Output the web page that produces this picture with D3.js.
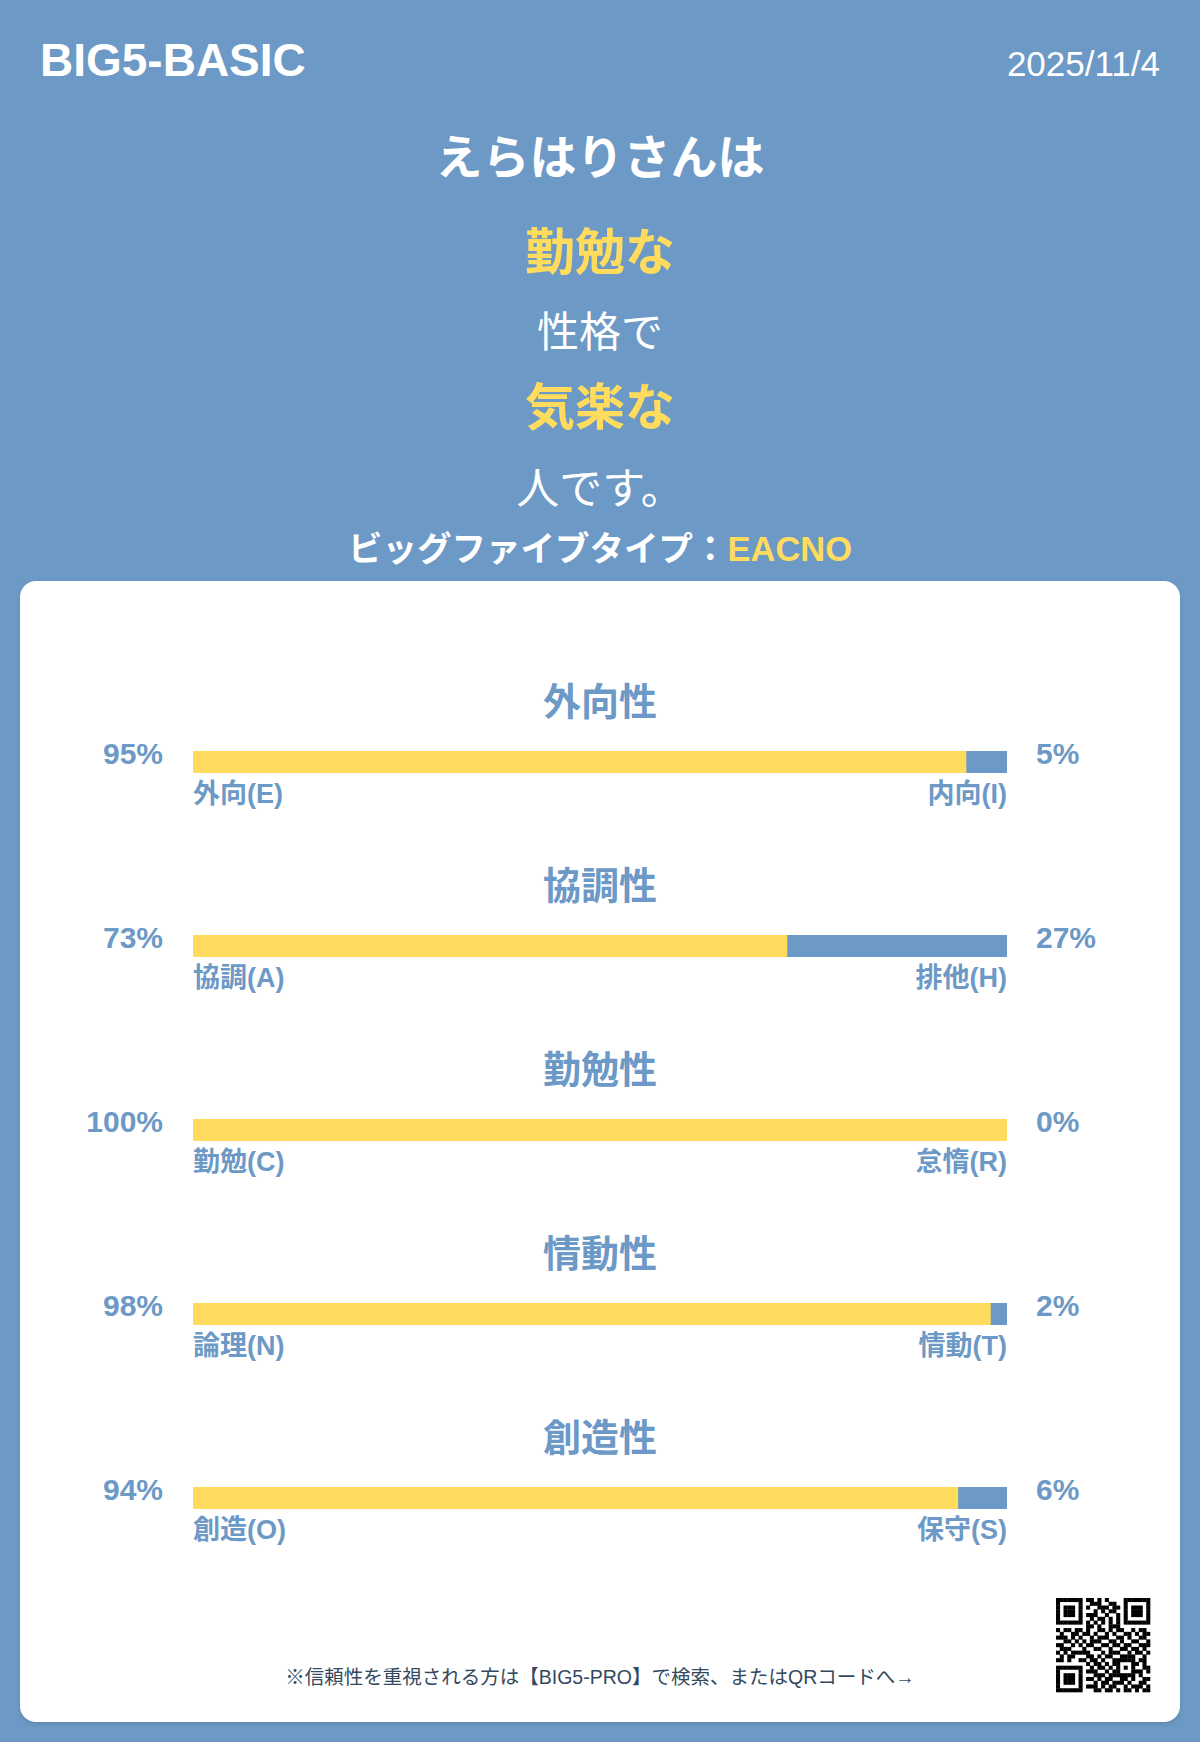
<!DOCTYPE html>
<html lang="ja">
<head>
<meta charset="utf-8">
<script src="https://cdn.jsdelivr.net/npm/d3@7"></script>
<style>
  html, body { margin: 0; padding: 0; background: #6c99c5; }
  svg { display: block; font-family: "Liberation Sans", Arial, "Noto Sans CJK JP", sans-serif; }
</style>
</head>
<body>
<div id="chart"></div>
<script>
// header texts
const appName = "BIG5-BASIC";
const reportDate = "2025/11/4";
const headline = [
  { text: "えらはりさんは", accent: false, bold: true, size: 47 },
  { text: "勤勉な", accent: true, bold: true, size: 50 },
  { text: "性格で", accent: false, bold: false, size: 42 },
  { text: "気楽な", accent: true, bold: true, size: 50 },
  { text: "人です。", accent: false, bold: false, size: 43 }
];
const typeLabel = "ビッグファイブタイプ：";
const typeCode = "EACNO";

// trait data
const traits = ["外向性", "協調性", "勤勉性", "情動性", "創造性"];
const leftValues = [95, 73, 100, 98, 94];
const rightValues = [5, 27, 0, 2, 6];
const leftLabels = ["外向(E)", "協調(A)", "勤勉(C)", "論理(N)", "創造(O)"];
const rightLabels = ["内向(I)", "排他(H)", "怠惰(R)", "情動(T)", "保守(S)"];

const footerNote = "※信頼性を重視される方は【BIG5-PRO】で検索、またはQRコードへ→";

// decorative code pattern (1 = dark module)
const qrRows = [
  "1111111011010100001111111",
  "1000001001110011001000001",
  "1011101010011101101011101",
  "1011101000101011001011101",
  "1011101011100100101011101",
  "1000001001011010101000001",
  "1111111010101010101111111",
  "0000000011010011100000000",
  "1011011010011010110010110",
  "0100110110100101001101011",
  "1110101001011100110100110",
  "0011010101110011010011001",
  "1100101011001101101100111",
  "0111000100110010011011010",
  "1010111110001011100101101",
  "0101100011010110011110010",
  "1101001101101001111110110",
  "0000000010110101100011010",
  "1111111001011010101010011",
  "1000001011100101100011101",
  "1011101000111011111110100",
  "1011101011010110011010011",
  "1011101000101101110100110",
  "1000001011101011001011101",
  "1111111000110110101101011"
];

const W = 1200, H = 1742;
const BLUE = "#6c99c5", YELLOW = "#ffdc5e", WHITE = "#ffffff";

const svg = d3.select("#chart")
  .append("svg")
  .attr("width", W)
  .attr("height", H);

svg.append("rect")
  .attr("width", W)
  .attr("height", H)
  .attr("fill", BLUE);

// top bar
svg.append("text")
  .attr("x", 40)
  .attr("y", 76)
  .attr("fill", WHITE)
  .style("font-size", "46px")
  .style("font-weight", "bold")
  .text(appName);

svg.append("text")
  .attr("x", 1160)
  .attr("y", 76)
  .attr("text-anchor", "end")
  .attr("fill", WHITE)
  .style("font-size", "35px")
  .text(reportDate);

// headline lines, centred
const headY = [174, 270, 347, 425, 504];
svg.selectAll("text.head")
  .data(headline)
  .enter()
  .append("text")
  .attr("class", "head")
  .attr("x", W / 2)
  .attr("y", (d, i) => headY[i])
  .attr("text-anchor", "middle")
  .attr("fill", (d) => (d.accent ? YELLOW : WHITE))
  .style("font-size", (d) => d.size + "px")
  .style("font-weight", (d) => (d.bold ? "bold" : "normal"))
  .text((d) => d.text);

const typeText = svg.append("text")
  .attr("x", W / 2)
  .attr("y", 561)
  .attr("text-anchor", "middle")
  .style("font-size", "34.5px")
  .style("font-weight", "bold");
typeText.append("tspan").attr("fill", WHITE).text(typeLabel);
typeText.append("tspan").attr("fill", YELLOW).text(typeCode);

// white card
svg.append("defs")
  .append("filter")
  .attr("id", "shadow")
  .append("feDropShadow")
  .attr("dx", 0)
  .attr("dy", 2)
  .attr("stdDeviation", 2)
  .attr("flood-color", "#000")
  .attr("flood-opacity", 0.12);

svg.append("rect")
  .attr("x", 20)
  .attr("y", 581)
  .attr("width", 1160)
  .attr("height", 1141)
  .attr("rx", 16)
  .attr("fill", WHITE)
  .attr("filter", "url(#shadow)");

// scales
const x = d3.scaleLinear().domain([0, 100]).range([193, 1007]);
const y = d3.scaleLinear().domain([0, traits.length - 1]).range([751, 1487]);
const barH = 22;

const rows = traits.map((t, i) => ({
  trait: t,
  left: leftValues[i],
  right: rightValues[i],
  leftLabel: leftLabels[i],
  rightLabel: rightLabels[i],
  i: i
}));

const g = svg.selectAll("g.trait")
  .data(rows)
  .enter()
  .append("g")
  .attr("class", "trait")
  .attr("transform", (d) => `translate(0,${y(d.i)})`);

// trait title
g.append("text")
  .attr("x", W / 2)
  .attr("y", -36)
  .attr("text-anchor", "middle")
  .attr("fill", BLUE)
  .style("font-size", "38px")
  .style("font-weight", "bold")
  .text((d) => d.trait);

// blue remainder bar (full width), then yellow share on top
g.append("rect")
  .attr("x", x(0))
  .attr("y", 0)
  .attr("width", x(100) - x(0))
  .attr("height", barH)
  .attr("fill", BLUE);

g.append("rect")
  .attr("x", x(0))
  .attr("y", 0)
  .attr("width", (d) => x(d.left) - x(0))
  .attr("height", barH)
  .attr("fill", YELLOW);

// percentages
g.append("text")
  .attr("x", x(0) - 30)
  .attr("y", 13)
  .attr("text-anchor", "end")
  .attr("fill", BLUE)
  .style("font-size", "30px")
  .style("font-weight", "bold")
  .text((d) => d.left + "%");

g.append("text")
  .attr("x", x(100) + 29)
  .attr("y", 13)
  .attr("fill", BLUE)
  .style("font-size", "30px")
  .style("font-weight", "bold")
  .text((d) => d.right + "%");

// pole labels
g.append("text")
  .attr("x", x(0))
  .attr("y", 52)
  .attr("fill", BLUE)
  .style("font-size", "27px")
  .style("font-weight", "bold")
  .text((d) => d.leftLabel);

g.append("text")
  .attr("x", x(100))
  .attr("y", 52)
  .attr("text-anchor", "end")
  .attr("fill", BLUE)
  .style("font-size", "27px")
  .style("font-weight", "bold")
  .text((d) => d.rightLabel);

// footer note
svg.append("text")
  .attr("x", W / 2)
  .attr("y", 1684)
  .attr("text-anchor", "middle")
  .attr("fill", "#34495e")
  .style("font-size", "19.5px")
  .text(footerNote);

// code block
const n = qrRows.length;
const qx = d3.scaleBand().domain(d3.range(n)).range([1056, 1150]);
const qy = d3.scaleBand().domain(d3.range(n)).range([1598, 1692]);
const cells = [];
qrRows.forEach((row, r) => {
  row.split("").forEach((c, col) => {
    if (c === "1") cells.push({ r: r, c: col });
  });
});
svg.append("g")
  .selectAll("rect")
  .data(cells)
  .enter()
  .append("rect")
  .attr("x", (d) => qx(d.c))
  .attr("y", (d) => qy(d.r))
  .attr("width", qx.bandwidth() + 0.3)
  .attr("height", qy.bandwidth() + 0.3)
  .attr("fill", "#000");
</script>
</body>
</html>
